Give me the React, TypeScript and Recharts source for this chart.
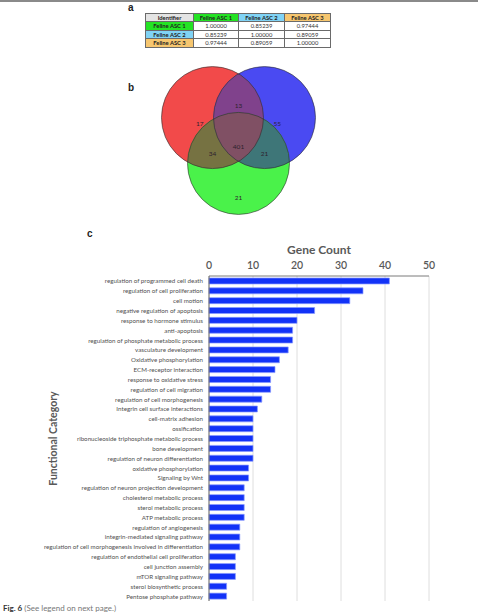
import React from 'react';
import {
  BarChart,
  Bar,
  XAxis,
  YAxis,
  CartesianGrid,
  Label,
  ScatterChart,
  Scatter,
} from 'recharts';

const FONT = 'Lato, "Open Sans", sans-serif';

// ---- panel a: correlation table ----
const identifiers = ['Feline ASC 1', 'Feline ASC 2', 'Feline ASC 3'];
const identifierColors = ['#24e324', '#80d3f5', '#f6c66f'];
const correlationRows = [
  [1.0, 0.85239, 0.97444],
  [0.85239, 1.0, 0.89059],
  [0.97444, 0.89059, 1.0],
];

// ---- panel b: venn diagram (units of circle radius) ----
const vennCenterX = [-0.51, 0.51, 0];
const vennCenterY = [0.45, 0.45, -0.45];
const vennSetColors = ['#f24a4a', '#4a4af2', '#4af24a'];
// overlaps: base circle clipped by the listed circles
const vennOverlapBase = [1, 2, 2, 2];
const vennOverlapClips = [[0], [0], [1], [0, 1]];
const vennOverlapColors = ['#80428c', '#767242', '#3e7678', '#805064'];
const vennCounts = [17, 13, 55, 34, 401, 21, 21];
const vennLabelX = [-0.76, 0, 0.76, -0.51, 0, 0.51, 0];
const vennLabelY = [0.33, 0.69, 0.33, -0.25, -0.12, -0.25, -1.12];

const VENN_W = 255;
const VENN_H = 163;
const VENN_X_DOMAIN: [number, number] = [-2.5, 2.5];
const VENN_Y_DOMAIN: [number, number] = [-1.6, 1.6];
const VENN_R = VENN_W / (VENN_X_DOMAIN[1] - VENN_X_DOMAIN[0]);

// ---- panel c: functional categories ----
const categories = [
  'regulation of programmed cell death',
  'regulation of cell proliferation',
  'cell motion',
  'negative regulation of apoptosis',
  'response to hormone stimulus',
  'anti-apoptosis',
  'regulation of phosphate metabolic process',
  'vasculature development',
  'Oxidative phosphorylation',
  'ECM-receptor interaction',
  'response to oxidative stress',
  'regulation of cell migration',
  'regulation of cell morphogenesis',
  'Integrin cell surface interactions',
  'cell-matrix adhesion',
  'ossification',
  'ribonucleoside triphosphate metabolic process',
  'bone development',
  'regulation of neuron differentiation',
  'oxidative phosphorylation',
  'Signaling by Wnt',
  'regulation of neuron projection development',
  'cholesterol metabolic process',
  'sterol metabolic process',
  'ATP metabolic process',
  'regulation of angiogenesis',
  'integrin-mediated signaling pathway',
  'regulation of cell morphogenesis involved in differentiation',
  'regulation of endothelial cell proliferation',
  'cell junction assembly',
  'mTOR signaling pathway',
  'sterol biosynthetic process',
  'Pentose phosphate pathway',
];
const geneCounts = [
  41, 35, 32, 24, 20, 19, 19, 18, 16, 15, 14, 14, 12, 11, 10, 10, 10, 10, 10, 9,
  9, 8, 8, 8, 8, 7, 7, 7, 6, 6, 6, 4, 4,
];
const countTicks = [0, 10, 20, 30, 40, 50];

const barData = categories.map((name, i) => ({ name, count: geneCounts[i] }));

const vennSetData = vennCenterX.map((x, i) => ({ x, y: vennCenterY[i], id: i }));
const vennOverlapData = vennOverlapBase.map((b, i) => ({
  x: vennCenterX[b],
  y: vennCenterY[b],
  clips: vennOverlapClips[i],
  color: vennOverlapColors[i],
}));
const vennLabelData = vennCounts.map((count, i) => ({
  x: vennLabelX[i],
  y: vennLabelY[i],
  count,
}));

const cellBorder = '0.8px solid #6a6a6a';

function CorrelationTable() {
  const cell: React.CSSProperties = {
    border: cellBorder,
    padding: 0,
    height: 7.4,
    lineHeight: '7.4px',
    textAlign: 'center',
    fontSize: 5.8,
    color: '#333',
    whiteSpace: 'nowrap',
  };
  return (
    <table
      style={{
        position: 'absolute',
        left: 145,
        top: 13,
        width: 185,
        borderCollapse: 'collapse',
        tableLayout: 'fixed',
        fontFamily: FONT,
      }}
    >
      <colgroup>
        <col style={{ width: 48 }} />
        <col style={{ width: 45 }} />
        <col style={{ width: 46 }} />
        <col style={{ width: 46 }} />
      </colgroup>
      <tbody>
        <tr>
          <td style={{ ...cell, background: '#e4e4e4', fontWeight: 700, color: '#222' }}>
            Identifier
          </td>
          {identifiers.map((id, i) => (
            <td
              key={id}
              style={{ ...cell, background: identifierColors[i], fontWeight: 700, color: '#222' }}
            >
              {id}
            </td>
          ))}
        </tr>
        {correlationRows.map((row, r) => (
          <tr key={identifiers[r]}>
            <td
              style={{ ...cell, background: identifierColors[r], fontWeight: 700, color: '#222' }}
            >
              {identifiers[r]}
            </td>
            {row.map((v, c) => (
              <td key={c} style={cell}>
                {v.toFixed(5)}
              </td>
            ))}
          </tr>
        ))}
      </tbody>
    </table>
  );
}

function VennDiagram() {
  return (
    <div style={{ position: 'absolute', left: 111, top: 59 }}>
      <ScatterChart width={VENN_W} height={VENN_H} margin={{ top: 0, right: 0, bottom: 0, left: 0 }}>
        <XAxis type="number" dataKey="x" domain={VENN_X_DOMAIN} hide />
        <YAxis type="number" dataKey="y" domain={VENN_Y_DOMAIN} hide />
        {/* the three sets, each also registering its clip path */}
        <Scatter
          data={vennSetData}
          isAnimationActive={false}
          shape={(p: any) => (
            <g>
              <defs>
                <clipPath id={`venn-clip-${p.payload.id}`}>
                  <circle cx={p.cx} cy={p.cy} r={VENN_R} />
                </clipPath>
              </defs>
              <circle cx={p.cx} cy={p.cy} r={VENN_R} fill={vennSetColors[p.payload.id]} />
            </g>
          )}
        />
        {/* pairwise and triple overlaps */}
        <Scatter
          data={vennOverlapData}
          isAnimationActive={false}
          shape={(p: any) => {
            let node: React.ReactNode = (
              <circle cx={p.cx} cy={p.cy} r={VENN_R} fill={p.payload.color} />
            );
            p.payload.clips.forEach((c: number) => {
              node = <g clipPath={`url(#venn-clip-${c})`}>{node}</g>;
            });
            return <g>{node}</g>;
          }}
        />
        {/* outlines */}
        <Scatter
          data={vennSetData}
          isAnimationActive={false}
          shape={(p: any) => (
            <circle
              cx={p.cx}
              cy={p.cy}
              r={VENN_R}
              fill="none"
              stroke="#2e2e2e"
              strokeOpacity={0.75}
              strokeWidth={0.8}
            />
          )}
        />
        <Scatter
          data={vennLabelData}
          isAnimationActive={false}
          shape={(p: any) => (
            <text
              x={p.cx}
              y={p.cy}
              textAnchor="middle"
              dominantBaseline="central"
              fontSize={6.5}
              fontFamily={FONT}
              fill="#2e222e"
            >
              {p.payload.count}
            </text>
          )}
        />
      </ScatterChart>
    </div>
  );
}

// single-line category labels, right-aligned against the plot
function CategoryTick({ x, y, payload }: any) {
  return (
    <text
      x={x}
      y={y}
      textAnchor="end"
      dominantBaseline="central"
      fontSize={6.2}
      fontFamily={FONT}
      fill="#505050"
    >
      {payload.value}
    </text>
  );
}

function CategoryChart() {
  return (
    <div style={{ position: 'absolute', left: 0, top: 230 }}>
      <BarChart
        layout="vertical"
        width={440}
        height={380}
        data={barData}
        margin={{ top: 6, right: 11, bottom: 9, left: 0 }}
        barCategoryGap="20%"
      >
        <CartesianGrid xAxisId="top" horizontal={false} stroke="#dedede" />
        <XAxis
          xAxisId="top"
          type="number"
          orientation="top"
          domain={[0, 50]}
          ticks={countTicks}
          height={40}
          axisLine={{ stroke: '#7a7a7a' }}
          tickLine={false}
          tickMargin={1}
          tick={{ fontSize: 10.5, fill: '#595959', fontFamily: FONT, fontWeight: 600 }}
        >
          <Label
            content={({ viewBox }: any) => (
              <text
                x={viewBox.x + viewBox.width / 2}
                y={viewBox.y + 13}
                textAnchor="middle"
                dominantBaseline="central"
                fontSize={12}
                fontWeight={700}
                fontFamily={FONT}
                fill="#595959"
              >
                Gene Count
              </text>
            )}
          />
        </XAxis>
        <XAxis
          xAxisId="bottom"
          type="number"
          orientation="bottom"
          domain={[0, 50]}
          height={0}
          tick={false}
          tickLine={false}
          axisLine={{ stroke: '#7a7a7a', strokeWidth: 1.2 }}
        />
        <YAxis
          type="category"
          dataKey="name"
          width={209}
          interval={0}
          tickLine={false}
          tickMargin={0}
          axisLine={{ stroke: '#6a6a6a' }}
          tick={<CategoryTick />}
        >
          <Label
            content={({ viewBox }: any) => {
              const cx = viewBox.x + 53;
              const cy = viewBox.y + viewBox.height / 2;
              return (
                <text
                  x={cx}
                  y={cy}
                  transform={`rotate(-90 ${cx} ${cy})`}
                  textAnchor="middle"
                  dominantBaseline="central"
                  fontSize={10.5}
                  fontWeight={700}
                  fontFamily={FONT}
                  fill="#595959"
                >
                  Functional Category
                </text>
              );
            }}
          />
        </YAxis>
        <YAxis
          yAxisId="right"
          type="category"
          dataKey="name"
          orientation="right"
          width={0}
          tick={false}
          tickLine={false}
          axisLine={{ stroke: '#7a7a7a', strokeWidth: 1.2 }}
        />
        <Bar
          xAxisId="top"
          dataKey="count"
          fill="#1232f7"
          stroke="#8a9bff"
          strokeWidth={0.7}
          isAnimationActive={false}
        />
      </BarChart>
    </div>
  );
}

const panelLetter: React.CSSProperties = {
  position: 'absolute',
  fontFamily: '"Liberation Sans", Arial, sans-serif',
  fontWeight: 700,
  fontSize: 10,
  color: '#222',
  lineHeight: '10px',
};

export default function App() {
  return (
    <div
      style={{
        position: 'absolute',
        left: 0,
        top: 0,
        width: 478,
        height: 613,
        background: '#fff',
        overflow: 'hidden',
        fontFamily: FONT,
      }}
    >
      <div style={{ position: 'absolute', left: 0, top: 0, width: 478, height: 2, background: '#8a8a8a' }} />
      <div style={{ ...panelLetter, left: 128, top: 3 }}>a</div>
      <div style={{ ...panelLetter, left: 128, top: 83 }}>b</div>
      <div style={{ ...panelLetter, left: 87, top: 229 }}>c</div>
      <CorrelationTable />
      <VennDiagram />
      <CategoryChart />
      <div
        style={{
          position: 'absolute',
          left: 3,
          top: 603,
          fontSize: 8,
          lineHeight: '10px',
          color: '#777',
          whiteSpace: 'nowrap',
        }}
      >
        <b style={{ color: '#333' }}>Fig. 6</b> (See legend on next page.)
      </div>
    </div>
  );
}
